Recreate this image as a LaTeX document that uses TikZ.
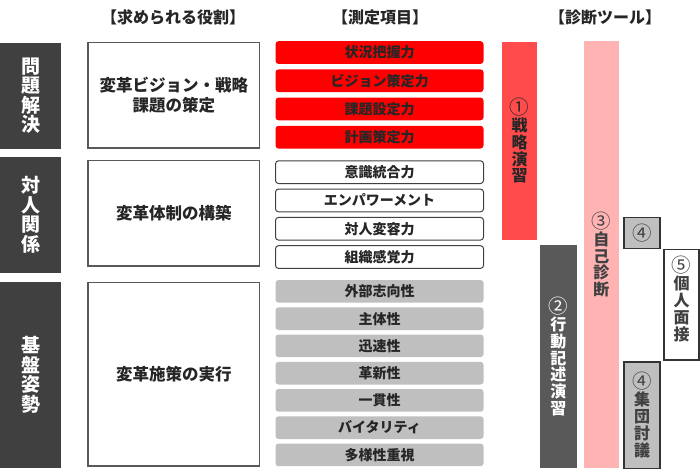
\documentclass[tikz,border=0pt]{standalone}
\usepackage{fontspec}
\setmainfont{Noto Sans CJK JP}
\definecolor{sidegray}{HTML}{404040}
\definecolor{rolegray}{HTML}{595959}
\definecolor{txt}{HTML}{262626}
\definecolor{itemred}{HTML}{FF0000}
\definecolor{itemline}{HTML}{404040}
\definecolor{itemgray}{HTML}{BFBFBF}
\definecolor{toolred}{HTML}{FF4B4B}
\definecolor{toolpink}{HTML}{FFB3B3}
\definecolor{tooldark}{HTML}{595959}
\definecolor{toolgray}{HTML}{BFBFBF}
\definecolor{toolline}{HTML}{333333}
\definecolor{tooltxt}{HTML}{404040}
\newcommand\cnum[1]{{\fontsize{19.5}{16.8}\selectfont\mdseries #1}}
\tikzset{
  base/.style={inner sep=0pt, outer sep=0pt, anchor=north west},
  hdr/.style={inner sep=0pt, text=txt, font=\fontsize{16}{16}\selectfont\bfseries},
  side/.style={base, fill=sidegray, text=white, minimum width=61pt, font=\fontsize{19}{19.5}\selectfont\bfseries, align=center},
  role/.style={base, draw=rolegray, line width=1.3pt, fill=white, text=txt, minimum width=171.5pt, font=\fontsize{16.5}{20}\selectfont\bfseries, align=center},
  item/.style={base, rounded corners=3pt, minimum width=208pt, minimum height=22.7pt, text=txt, font=\fontsize{14}{14}\selectfont\bfseries},
  reditem/.style={item, fill=itemred},
  whiteitem/.style={item, draw=itemline, line width=1pt, fill=white},
  grayitem/.style={item, fill=itemgray},
  tool/.style={base, font=\fontsize{16}{16.8}\selectfont\bfseries, align=center},
  toolbox/.style={tool, fill=toolgray, draw=toolline, line width=1.6pt, text=tooltxt},
}
\begin{document}
\begin{tikzpicture}[x=1pt,y=-1pt]
\useasboundingbox (0,0) rectangle (700,474);
% headers
\node[hdr] (h1) at (173,17) {【求められる役割】};
\node[hdr] (h2) at (380,17) {【測定項目】};
\node[hdr] (h3) at (605,17) {【診断ツール】};
% left categories
\node[side, minimum height=106pt] (c1) at (0,42.5) {問\\題\\解\\決};
\node[side, minimum height=116.5pt] (c2) at (0,156.5) {対\\人\\関\\係};
\node[side, minimum height=186pt] (c3) at (0,282) {基\\盤\\姿\\勢};
% roles
\node[role, minimum height=105.5pt] (r1) at (88,42.5) {変革ビジョン・戦略\\課題の策定};
\node[role, minimum height=105.5pt] (r2) at (88,160.5) {変革体制の構築};
\node[role, minimum height=183.5pt] (r3) at (88,282.5) {変革施策の実行};
% red items
\node[reditem] (m1) at (275.5,41.2) {状況把握力};
\node[reditem] (m2) at (275.5,69.4) {ビジョン策定力};
\node[reditem] (m3) at (275.5,97.6) {課題設定力};
\node[reditem] (m4) at (275.5,125.8) {計画策定力};
% white items
\node[whiteitem] (m5) at (275.5,160.8) {意識統合力};
\node[whiteitem] (m6) at (275.5,189.1) {エンパワーメント};
\node[whiteitem] (m7) at (275.5,217.4) {対人変容力};
\node[whiteitem] (m8) at (275.5,245.7) {組織感覚力};
% gray items
\node[grayitem] (m9) at (275.5,280.0) {外部志向性};
\node[grayitem] (m10) at (275.5,307.3) {主体性};
\node[grayitem] (m11) at (275.5,334.5) {迅速性};
\node[grayitem] (m12) at (275.5,361.8) {革新性};
\node[grayitem] (m13) at (275.5,389.0) {一貫性};
\node[grayitem] (m14) at (275.5,416.3) {バイタリティ};
\node[grayitem] (m15) at (275.5,443.5) {多様性重視};
% tools
\node[tool, fill=toolred, text=txt, minimum width=34.7pt, minimum height=197.5pt] (t1) at (502.3,42) {\cnum{①}\\戦\\略\\演\\習};
\node[tool, fill=toolpink, text=tooltxt, minimum width=34.7pt, minimum height=427.6pt] (t3) at (584,40.7) {\cnum{③}\\自\\己\\診\\断};
\node[tool, fill=tooldark, text=white, minimum width=36.7pt, minimum height=223.3pt] (t2) at (540,245) {\cnum{②}\\行\\動\\記\\述\\演\\習};
\node[toolbox, minimum width=36pt, minimum height=31pt] (t4a) at (624,217.3) {\cnum{④}};
\node[tool, fill=white, draw=toolline, line width=1.5pt, minimum width=35pt, minimum height=110.7pt] (t5) at (664,249.3) {};
\node[tool, text=tooltxt, anchor=center] (t5txt) at (681.5,299) {\cnum{⑤}\\個\\人\\面\\接};
\node[toolbox, minimum width=36pt, minimum height=106.6pt] (t4b) at (624,361.7) {\cnum{④}\\集\\団\\討\\議};
\end{tikzpicture}
\end{document}
